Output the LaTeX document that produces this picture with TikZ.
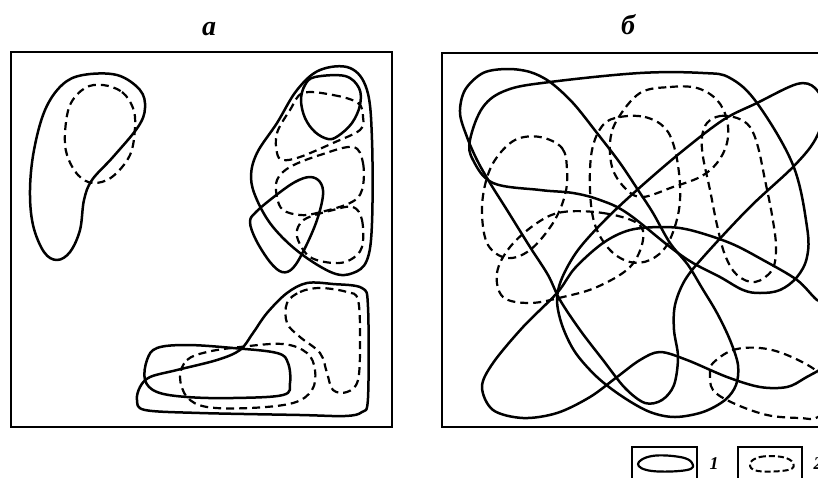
\documentclass[tikz,border=0pt]{standalone}
\usepackage{fontspec}
\setmainfont{Liberation Serif}
\begin{document}
\begin{tikzpicture}[x=1pt,y=-1pt,
  frame/.style={line width=1.7pt},
  solidc/.style={line width=2.5pt,line join=round},
  dashc/.style={line width=2.2pt,dash pattern=on 8pt off 5pt},
  lbl/.style={font=\fontsize{28}{28}\selectfont\itshape\bfseries,inner sep=0pt},
  lgd/.style={font=\fontsize{18}{18}\selectfont\itshape\bfseries,inner sep=0pt}]
\useasboundingbox (0,0) rectangle (818,477);
\clip (0,0) rectangle (818,477);
% labels
\node[lbl] (la) at (209,29) {а};
\node[lbl] (lb) at (628,25) {б};
% ---------- panel a ----------
\draw[frame] (11,52) rectangle (392,427);
% left blob
\draw[solidc] plot[smooth cycle,tension=0.6] coordinates {(83,75) (117,75) (140,90) (145,108) (138,127) (113,157) (92,180) (84,200) (80,230) (70,252) (57,260) (44,252) (33,225) (30,190) (34,150) (45,110) (62,85)};
\draw[dashc] plot[smooth cycle,tension=0.6] coordinates {(103,85) (122,92) (133,108) (135,127) (130,155) (112,177) (93,183) (78,175) (67,155) (65,133) (70,105) (85,88)};
% top-right group
\draw[solidc] plot[smooth cycle,tension=0.6] coordinates {(320,70) (350,68) (367,90) (372,140) (372,223) (367,260) (353,273) (333,273) (300,253) (273,227) (257,200) (251,177) (257,153) (277,123) (297,90)};
\draw[solidc] plot[smooth cycle,tension=0.6] coordinates {(315,77) (345,76) (359,88) (360,105) (352,123) (338,136) (328,139) (315,132) (305,118) (301,100) (305,85)};
\draw[solidc] plot[smooth cycle,tension=0.6] coordinates {(310,177) (320,182) (323,195) (317,220) (305,248) (293,268) (282,272) (270,262) (256,240) (250,222) (256,212) (275,196) (295,182)};
\draw[dashc] plot[smooth cycle,tension=0.6] coordinates {(303,93) (333,95) (358,103) (363,117) (360,130) (333,143) (300,157) (283,160) (277,153) (277,133) (290,110)};
\draw[dashc] plot[smooth cycle,tension=0.6] coordinates {(353,147) (363,163) (362,190) (350,203) (317,213) (300,215) (283,210) (277,197) (277,180) (290,167) (320,155)};
\draw[dashc] plot[smooth cycle,tension=0.6] coordinates {(353,207) (362,220) (362,247) (350,260) (333,263) (310,257) (298,240) (298,227) (307,218) (333,210)};
% bottom group
\draw[solidc] plot[smooth cycle,tension=0.55] coordinates {(137,400) (145,410) (200,413) (300,415) (345,416) (362,412) (368,398) (368,307) (362,288) (333,284) (307,283) (287,293) (267,313) (253,333) (240,350) (217,360) (177,370) (150,377) (140,387)};
\draw[solidc] plot[smooth cycle,tension=0.6] coordinates {(157,348) (187,345) (233,348) (277,353) (288,363) (290,383) (283,395) (233,398) (187,397) (157,392) (145,380) (147,360)};
\draw[dashc] plot[smooth cycle,tension=0.6] coordinates {(180,377) (187,360) (207,352) (240,347) (283,344) (307,353) (315,370) (312,390) (293,403) (250,408) (207,407) (187,397)};
\draw[dashc] plot[smooth cycle,tension=0.6] coordinates {(287,303) (300,292) (320,288) (347,292) (358,300) (360,340) (358,380) (347,392) (333,390) (327,373) (320,353) (300,337) (287,323)};
% ---------- panel b ----------
\draw[frame] (442,53) rectangle (840,427);
% P-shaped loop
\draw[solidc] plot[smooth cycle,tension=0.6] coordinates {(470,140) (483,107) (507,90) (550,82) (640,73) (703,73) (730,78) (757,103) (793,165) (807,227) (807,257) (797,277) (780,290) (760,293) (743,290) (720,277) (693,263) (670,247) (627,213) (600,200) (573,193) (540,190) (493,183) (473,160)};
% big diagonal loops
\draw[solidc] plot[smooth cycle,tension=0.55] coordinates {(550,82) (530,72) (507,69) (483,73) (465,90) (460,113) (467,137) (477,160) (490,183) (507,210) (530,247) (548,275) (560,300) (580,330) (603,360) (625,388) (645,403) (662,400) (674,385) (678,357) (674,330) (675,305) (685,280) (705,255) (750,207) (793,167) (815,140) (825,110) (815,88) (797,84) (757,103) (723,120) (680,153) (637,190) (605,220) (578,250) (562,278) (557,300) (562,325) (575,352) (597,377) (623,397) (650,412) (675,417) (703,412) (725,400) (736,385) (738,365) (730,340) (717,313) (702,288) (688,265) (670,243) (653,213) (640,193) (620,163) (597,133) (573,103)};
% lower wave loop
\draw[solidc] plot[smooth cycle,tension=0.55] coordinates {(845,335) (830,305) (817,300) (797,280) (763,260) (730,243) (690,230) (663,227) (630,230) (603,243) (575,268) (557,293) (523,327) (493,363) (482,387) (493,410) (523,418) (557,413) (590,397) (617,377) (640,360) (660,352) (687,360) (727,377) (760,387) (787,387) (805,378) (830,362)};
% dashed fields
\draw[dashc] plot[smooth cycle,tension=0.6] coordinates {(540,137) (562,148) (567,170) (565,195) (553,223) (530,250) (507,258) (488,245) (482,215) (485,185) (495,160) (515,140)};
\draw[dashc] plot[smooth cycle,tension=0.6] coordinates {(563,212) (603,213) (637,223) (643,240) (630,267) (597,287) (563,297) (530,303) (503,297) (497,273) (510,247) (537,223)};
\draw[dashc] plot[smooth cycle,tension=0.6] coordinates {(620,117) (645,117) (665,128) (675,150) (680,185) (678,215) (667,245) (650,260) (630,262) (610,250) (595,225) (590,190) (592,150) (603,125)};
\draw[dashc] plot[smooth cycle,tension=0.6] coordinates {(640,93) (670,87) (697,88) (717,100) (727,120) (727,143) (717,163) (700,177) (673,187) (643,197) (627,190) (613,170) (610,143) (617,120)};
\draw[dashc] plot[smooth cycle,tension=0.6] coordinates {(707,123) (720,116) (737,118) (750,127) (758,147) (765,180) (772,215) (776,247) (772,270) (755,282) (737,275) (725,255) (717,225) (710,190) (703,157) (702,137)};
\draw[dashc] plot[smooth cycle,tension=0.6] coordinates {(713,363) (733,350) (760,348) (787,355) (818,372) (835,395) (818,417) (800,418) (767,415) (733,403) (713,390) (710,373)};
% ---------- legend ----------
\draw[frame] (632,447) rectangle (697,495);
\draw[solidc,line width=2.2pt] plot[smooth cycle,tension=0.7] coordinates {(638,464) (652,456) (680,457) (692,463) (687,470) (652,471)};
\node[lgd] (l1) at (714,464) {1};
\draw[frame] (738,447) rectangle (802,495);
\draw[dashc,line width=2pt,dash pattern=on 6pt off 3pt] plot[smooth cycle,tension=0.7] coordinates {(750,464) (760,457) (782,457) (793,463) (788,470) (758,471)};
\node[lgd] (l2) at (818,464) {2};
\end{tikzpicture}
\end{document}
